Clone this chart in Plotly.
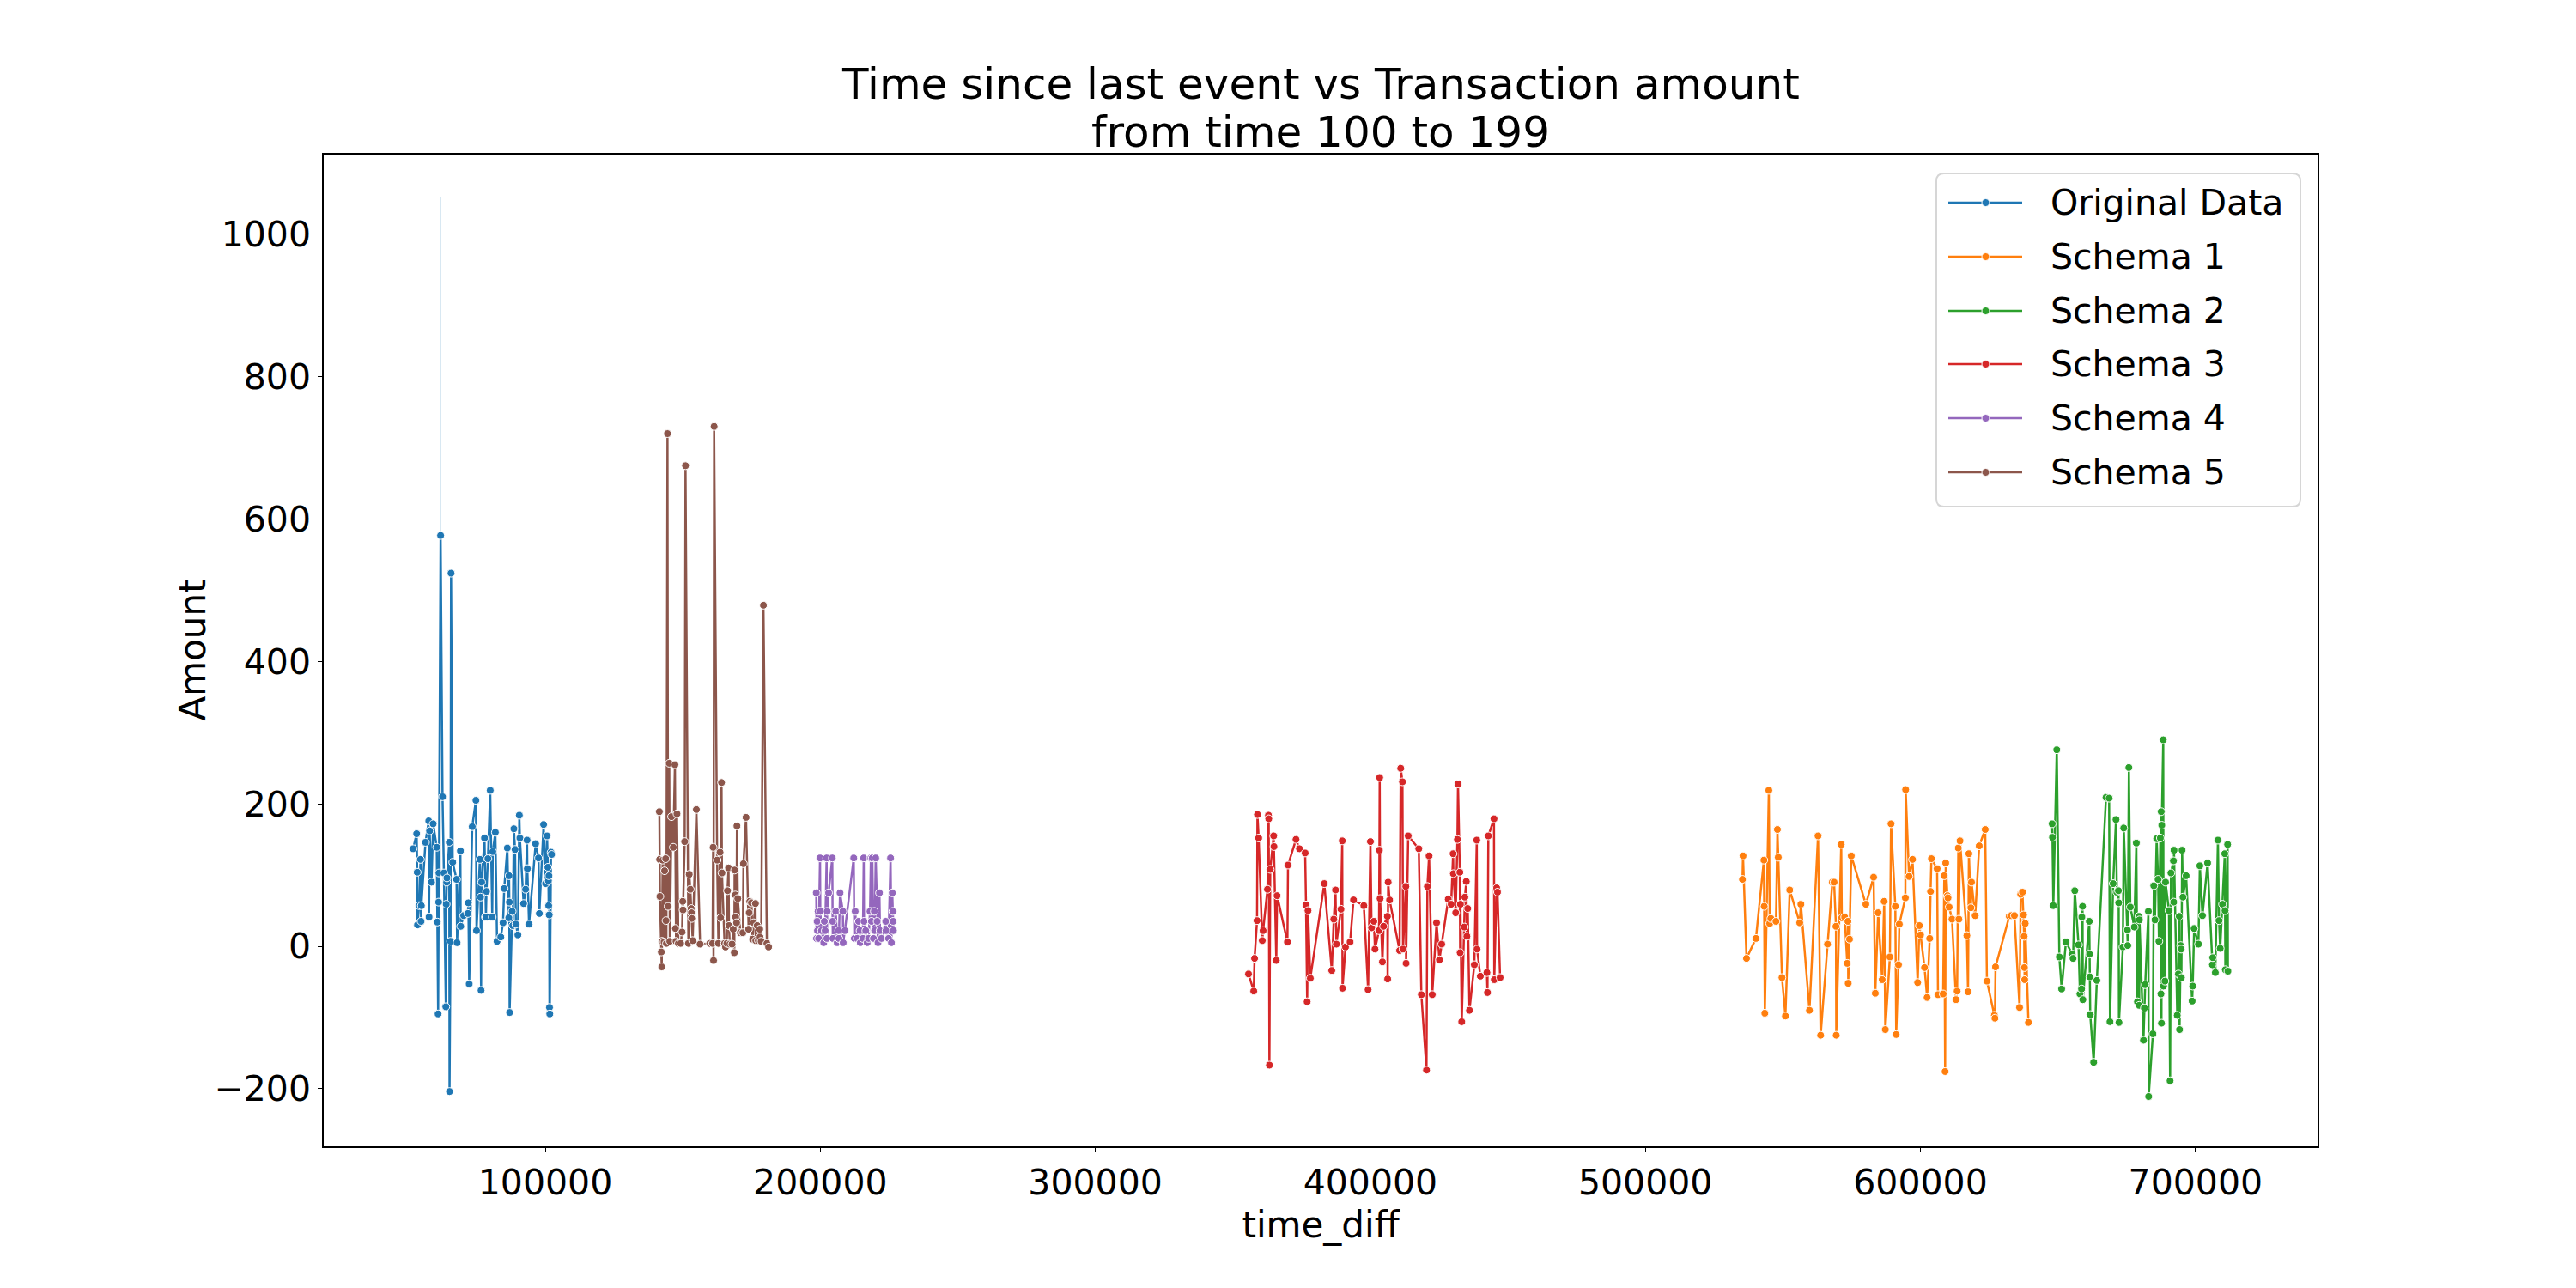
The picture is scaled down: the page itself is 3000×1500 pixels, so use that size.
import plotly.graph_objects as go

# ---------------------------------------------------------------------------
# Data (time_diff vs Amount, events 100..199)
# ---------------------------------------------------------------------------

orig_time = [
    51950, 53250, 53450, 53550, 54150, 54650, 54850, 54950, 56450, 57650,
    57750, 57950, 58650, 59250, 60550, 60750, 61050, 61250, 61350, 61950,
    62650, 63150, 63850, 64000, 64150, 64250, 65100, 65200, 65550, 65750,
    66350, 67750, 67950, 69150, 69250, 70350, 71850, 72050, 72350, 73450,
    74800, 75010, 76250, 76460, 76670, 76880, 77915, 78226, 78435, 78640,
    79160, 79990, 80720, 80925, 81860, 82480, 83830, 84660, 85075, 86220,
    86740, 86840, 86945, 87050, 87980, 88190, 88600, 89020, 89330, 90060,
    90580, 90785, 92135, 92860, 93380, 93485, 94110, 96500, 97540, 97850,
    99400, 100130, 100650, 100960, 101150, 101250, 101350, 101450, 101550, 101650,
    102100, 102310,
]
orig_amount = [
    137, 158, 104, 30, 57, 122, 35, 57, 146, 176,
    41, 162, 90, 172, 139, 34, -95, 62, 103, 577,
    210, 103, -85, 59, 90, 96, 146, -204, 7, 524,
    118, 94, 5, 134, 28, 43, 46, 61, -53, 168,
    205, 22, 122, 69, -62, 90, 152, 41, 41, 77,
    123, 219, 41, 133, 160, 7, 13, 33, 81, 138,
    40, 99, 62, -93, 49, 29, 165, 136, 31, 16,
    184, 152, 60, 80, 149, 109, 31, 144, 124, 46,
    171, 88, 155, 111, 92, 57, 99, 44, -86, -95,
    132, 129,
]

# confidence band where two events share the same time_diff
band_time = [61950, 61950]
band_amount = [102, 1052]

s1_time = [
    535300, 535500, 536770, 540200, 543100, 543200, 543430, 544890, 545200, 545610,
    547490, 548010, 548320, 549670, 550920, 552480, 556130, 556540, 559660, 562780,
    563720, 566220, 567990, 568610, 569300, 569400, 571215, 571420, 572460, 573400,
    573650, 573750, 574230, 574860, 580170, 582980, 583600, 584640, 586100, 586830,
    587240, 588910, 589320, 590880, 591200, 592030, 592340, 594530, 594630, 595880,
    597130, 599000, 599630, 600050, 601500, 602440, 603380, 603690, 604000, 606080,
    606390, 608270, 608680, 608990, 609200, 609820, 610030, 610450, 611490, 612950,
    613360, 613780, 613990, 614400, 616900, 617320, 617630, 618360, 618570, 619920,
    621380, 623560, 624190, 626900, 627100, 627310, 632310, 633030, 634180, 636050,
    636470, 637100, 637510, 637720, 637820, 637920, 638100, 639280,
]
s1_amount = [
    94, 127, -17, 11, 121, 56, -94, 219, 32, 39,
    35, 164, 125, -44, -98, 79, 33, 59, -90, 155,
    -125, 3, 90, 90, 28, -125, 143, 40, 41, -24,
    35, -52, 10, 127, 59, 97, -66, 47, -47, 63,
    -117, -15, 172, 56, -124, -26, 31, 68, 220, 98,
    122, -51, 29, 16, -30, -72, 11, 77, 123, 109,
    -68, -67, 99, -176, 117, 71, 68, 55, 38, -75,
    -63, 138, 38, 148, 15, -64, 130, 54, 90, 43,
    141, 164, -49, -97, -101, -29, 42, 43, 43, -86,
    73, 76, 44, 14, -30, -47, 32, -107,
]

s2_time = [
    647910, 648020, 648330, 649580, 650510, 651350, 652910, 655200, 655510, 656130,
    657490, 658010, 658600, 658700, 658950, 659050, 661400, 661500, 661600, 661750,
    663000, 664150, 667480, 668620, 668930, 670080, 671120, 671430, 672000, 672100,
    672200, 673620, 673930, 675300, 675400, 675800, 676320, 677780, 678510, 678920,
    679450, 679550, 679650, 681110, 681420, 681730, 682900, 683000, 684540, 684860,
    685270, 685900, 686420, 686730, 687250, 687460, 687550, 687650, 687750, 688300,
    688400, 688920, 689120, 690370, 690790, 691100, 692000, 692100, 692200, 693390,
    693810, 694120, 694230, 694640, 694800, 694900, 695160, 695470, 696620, 698800,
    699010, 699530, 701090, 701610, 702550, 704420, 706190, 706300, 707230, 708170,
    708580, 709000, 709830, 710670, 710770, 710870, 711700, 711800,
]
s2_amount = [
    172, 153, 57, 276, -15, -60, 6, -11, -17, 78,
    2, -67, -60, 41, 56, -75, 35, -11, -43, -96,
    -163, -48, 209, 208, -106, 88, 178, 76, 78, 61,
    -107, -1, 166, 23, 1, 251, 55, 27, 145, -78,
    42, -83, 37, -132, -87, -54, 49, -211, -123, 85,
    37, 151, 94, 7, 152, -67, 189, -108, 170, 290,
    -56, -49, 90, 50, -189, 103, 120, 62, 135, -97,
    -39, 42, -117, 1, -4, -44, 135, 69, 99, -77,
    -56, 25, 3, 113, 43, 117, -26, -16, -37, 149,
    36, -3, 59, 130, 50, -33, 143, -35,
]

s3_time = [
    355700, 357600, 357900, 358800, 358950, 359400, 360700, 361000, 362600, 362950,
    363050, 363300, 363600, 364850, 364950, 365800, 366100, 369850, 370060, 372970,
    374220, 376300, 376610, 377030, 377340, 378170, 383270, 385980, 386700, 387330,
    387640, 389310, 389780, 389880, 390970, 392640, 393890, 397640, 399190, 400030,
    400440, 401280, 401690, 403150, 403300, 403400, 403560, 404400, 404810, 406200,
    406300, 406480, 407000, 410640, 411050, 411680, 411890, 412900, 413000, 413760,
    417610, 418550, 420420, 420740, 421360, 422500, 424070, 425110, 425940, 428330,
    429380, 430100, 430200, 431040, 431660, 431870, 432550, 432650, 432750, 433230,
    434160, 434370, 434890, 435100, 435410, 436040, 437810, 438700, 438800, 439990,
    442380, 442590, 442900, 444950, 445050, 445920, 446230, 447170,
]
s3_amount = [
    -39, -63, -17, 36, 185, 152, 8, 22, 80, 184,
    179, -167, 108, 155, 140, -20, 71, 6, 114, 150,
    137, 131, 58, -78, 50, -45, 88, -34, 38, 79,
    3, 52, 148, -59, -1, 6, 65, 57, -61, 147,
    26, 35, -4, 22, 135, 237, 67, -22, 28, 42,
    -46, 90, 65, -6, 250, 231, -4, 84, -24, 155,
    137, -68, -174, 84, 127, -68, 33, -19, 3, 66,
    59, 130, 102, 47, 150, 228, 104, -9, 59, -106,
    27, 69, 91, 14, 53, -90, -26, 149, -4, -42,
    -37, -65, 155, 179, -47, 82, 76, -44,
]

s4_time = [
    198550, 198650, 198850, 199000, 199200, 199400, 199920, 200020, 200440, 201270,
    201480, 201790, 202310, 202410, 202520, 203030, 204380, 204490, 204590, 205630,
    206150, 206670, 206770, 207190, 208220, 208330, 208950, 212170, 212380, 212690,
    213410, 213930, 214450, 214550, 215490, 215800, 215910, 216530, 217050, 217570,
    218090, 218400, 218610, 218920, 219330, 219640, 219750, 220160, 220680, 220990,
    221510, 221720, 222240, 223790, 223900, 224830, 225560, 225870, 226180, 226390,
    226500, 226600,
]
s4_amount = [
    75, 11, 35, 22, 49, 11, 124, 49, 22, 5,
    35, 22, 124, 11, 49, 75, 124, 35, 11, 49,
    5, 22, 11, 75, 49, 5, 22, 124, 11, 49,
    11, 35, 22, 5, 11, 124, 35, 22, 5, 11,
    49, 124, 35, 124, 11, 49, 22, 124, 35, 5,
    75, 22, 11, 35, 22, 11, 124, 5, 75, 49,
    35, 22,
]

s5_time = [
    141500, 141600, 141700, 142200, 142350, 142450, 142700, 143200, 143400, 143800,
    143900, 144050, 144450, 144650, 145100, 145300, 145900, 146550, 147150, 147350,
    147550, 147900, 148400, 149250, 149750, 150000, 150100, 150700, 151000, 152050,
    152350, 152750, 153050, 153150, 153250, 153600, 154950, 156300, 159800, 160850,
    161050, 161200, 161400, 162500, 162950, 163550, 163750, 164100, 164250, 165200,
    165550, 166050, 166260, 166650, 166800, 167100, 167920, 168350, 168750, 168850,
    169100, 169250, 169580, 169700, 170000, 170930, 171850, 172070, 173000, 173940,
    174150, 174350, 174980, 175390, 175810, 176430, 176540, 177050, 177470, 177990,
    178100, 178510, 179340, 180580, 181210,
]
s5_amount = [
    189, 122, 70, -8, -29, 7, 121, 6, 106, 123,
    36, 4, 720, 56, 257, 7, 182, 139, 255, 25,
    7, 186, 4, 4, 20, 63, 51, 147, 675, 4,
    101, 80, 53, 47, 39, 8, 192, 3, 4, 4,
    139, -20, 730, 121, 4, 132, 40, 230, 103, 4,
    -1, 4, 78, 110, 29, 3, 3, 24, -9, 107,
    72, 41, 33, 169, 67, 19, 19, 116, 181, 24,
    47, 63, 61, 10, 33, 60, 8, 29, 8, 24,
    13, 7, 479, 4, -1,
]

series_names = ["Original Data", "Schema 1", "Schema 2", "Schema 3", "Schema 4", "Schema 5"]
series_colors = ["#1f77b4", "#ff7f0e", "#2ca02c", "#d62728", "#9467bd", "#8c564b"]
series_time = [orig_time, s1_time, s2_time, s3_time, s4_time, s5_time]
series_amount = [orig_amount, s1_amount, s2_amount, s3_amount, s4_amount, s5_amount]

FONT = "DejaVu Sans"

# plot box in screen pixels (page is offset 8px by the body margin)
PLOT_L, PLOT_R, PLOT_T, PLOT_B = 377, 2699, 180, 1335
PW, PH = PLOT_R - PLOT_L, PLOT_B - PLOT_T


def px(x):
    return (x - PLOT_L) / PW


def py(y):
    return (PLOT_B - y) / PH


fig = go.Figure()

fig.add_trace(go.Scatter(
    x=band_time, y=band_amount, mode="lines",
    line=dict(color="rgba(31,119,180,0.2)", width=1.5),
    showlegend=False, hoverinfo="skip",
))

for name, xs, ys, color in zip(series_names, series_time, series_amount, series_colors):
    fig.add_trace(go.Scatter(
        x=xs, y=ys, mode="lines+markers", name=name,
        line=dict(color=color, width=2.5),
        marker=dict(color=color, size=9, line=dict(color="white", width=1)),
        showlegend=False,
    ))

# two-line title, separate annotations to control line spacing
for text, yc in [("Time since last event vs Transaction amount", 98),
                 ("from time 100 to 199", 154)]:
    fig.add_annotation(
        text=text, xref="paper", yref="paper", x=0.5, y=py(yc),
        xanchor="center", yanchor="middle", showarrow=False,
        font=dict(family=FONT, size=50, color="black"),
    )

fig.add_annotation(
    text="Amount", xref="paper", yref="paper", x=px(224), y=0.5,
    xanchor="center", yanchor="middle", textangle=-90, showarrow=False,
    font=dict(family=FONT, size=42, color="black"),
)

# legend drawn by hand (matplotlib style: long handles, rounded box)
lx0, lx1, ly0, ly1 = px(2255), px(2679), py(590), py(202)
rx, ry = 9 / PW, 9 / PH
fig.add_shape(
    type="path", xref="paper", yref="paper",
    path=(f"M{lx0 + rx},{ly1} L{lx1 - rx},{ly1} Q{lx1},{ly1} {lx1},{ly1 - ry} "
          f"L{lx1},{ly0 + ry} Q{lx1},{ly0} {lx1 - rx},{ly0} L{lx0 + rx},{ly0} "
          f"Q{lx0},{ly0} {lx0},{ly0 + ry} L{lx0},{ly1 - ry} Q{lx0},{ly1} {lx0 + rx},{ly1} Z"),
    fillcolor="rgba(255,255,255,0.8)", line=dict(color="#d6d6d6", width=2),
)
row_y = [236, 299, 362, 424, 487, 550]
for name, color, yy in zip(series_names, series_colors, row_y):
    fig.add_shape(type="line", xref="paper", yref="paper",
                  x0=px(2269), x1=px(2355), y0=py(yy), y1=py(yy),
                  line=dict(color=color, width=2.5))
    fig.add_shape(type="circle", xref="paper", yref="paper",
                  x0=px(2308), x1=px(2317), y0=py(yy + 4.5), y1=py(yy - 4.5),
                  fillcolor=color, line=dict(color="white", width=1))
    fig.add_annotation(
        text=name, xref="paper", yref="paper", x=px(2386), y=py(yy),
        xanchor="left", yanchor="middle", showarrow=False,
        font=dict(family=FONT, size=41, color="black"),
    )

axis_common = dict(
    showgrid=False, zeroline=False,
    showline=True, linecolor="black", linewidth=1.5, mirror=True,
    ticks="outside", ticklen=5, tickwidth=1.2, tickcolor="black",
    tickfont=dict(family=FONT, size=41, color="black"),
)

fig.update_xaxes(
    **axis_common,
    range=[19450, 744400],
    dtick=100000, tick0=0, tickformat="d",
    title=dict(text="time_diff", font=dict(family=FONT, size=42, color="black"),
               standoff=12),
)
fig.update_yaxes(
    **axis_common,
    range=[-281, 1112],
    dtick=200, tick0=0,
)

fig.update_layout(
    width=3000, height=1500,
    margin=dict(l=PLOT_L - 8, r=3000 - PLOT_R + 8, t=PLOT_T - 8, b=1500 - PLOT_B + 8,
                autoexpand=False),
    paper_bgcolor="white", plot_bgcolor="white",
    font=dict(family=FONT, color="black"),
    showlegend=False,
)

fig.write_html("out.html")
